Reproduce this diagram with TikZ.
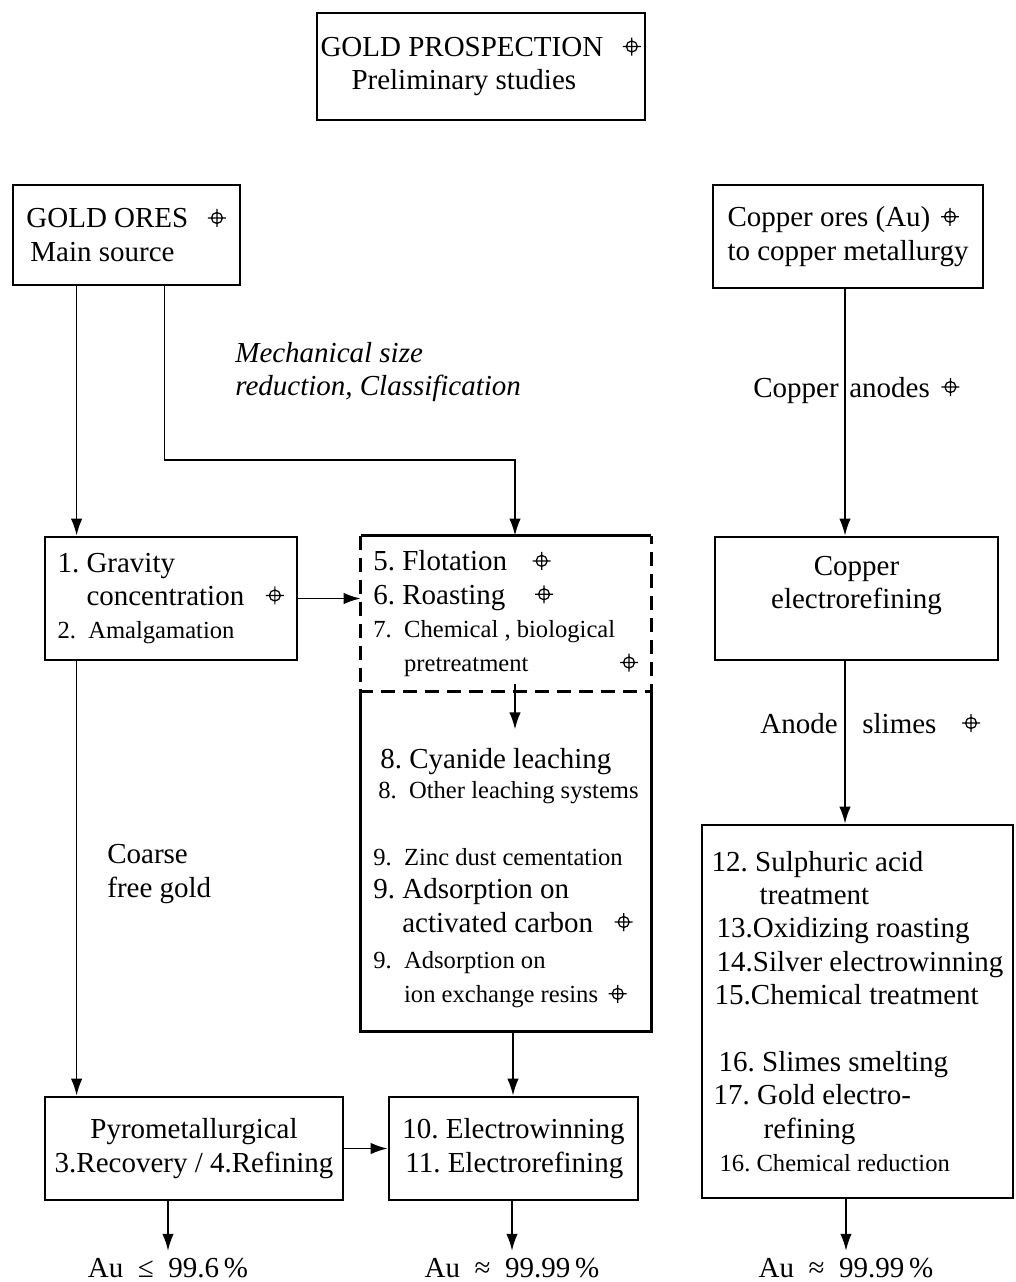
\documentclass[tikz,border=0pt]{standalone}
\usepackage{fontspec}
\setmainfont{Liberation Serif}
\usetikzlibrary{arrows.meta,positioning}

\newcommand{\aumark}{\tikz[baseline=-0.75ex]{\draw[solid, line width=0.7pt] (0,0) circle[radius=1.1mm] (-1.8mm,0) -- (1.8mm,0) (0,-1.8mm) -- (0,1.8mm);}}
\newcommand{\bigtxt}{\fontsize{16.5}{19}\selectfont}
\newcommand{\smtxt}{\fontsize{14}{19}\selectfont}
\frenchspacing

\begin{document}
\begin{tikzpicture}[
    x=0.02cm, y=-0.02cm,
    box/.style={draw, line width=1.6pt, align=left, inner sep=0pt, font=\bigtxt},
    part/.style={box, draw=none},
    frame/.style={line width=1.6pt},
    cut/.style={frame, dash pattern=on 0.28cm off 0.16cm},
    lbl/.style={inner sep=0pt, font=\bigtxt},
    purity/.style={lbl, inner sep=4pt},
    link/.style={-{Latex[length=3.4mm,width=2.3mm]}, line width=1pt}
]
\useasboundingbox (0,0) rectangle (1016,1282);

% top row
\node[box, minimum width=6.56cm, minimum height=2.14cm] (prosp) at (481,66.5)
    {GOLD PROSPECTION\hspace{0.38cm}\aumark\\\hspace*{0.62cm}Preliminary studies};
\node[box, minimum width=4.54cm, minimum height=2cm] (ores) at (126.5,235)
    {GOLD ORES\hspace{0.38cm}\aumark\\\hspace*{0.08cm}Main source};
\node[box, minimum width=5.4cm, minimum height=2.06cm] (cuores) at (848,236.5)
    {Copper ores (Au)\hspace{0.2cm}\aumark\\to copper metallurgy};

% second row
\node[box, minimum width=5.04cm, minimum height=2.46cm] (grav) at (171,598.5)
    {1. Gravity\\\phantom{1. }concentration\hspace{0.42cm}\aumark\\{\smtxt 2.\ \ Amalgamation}};
\node[part, minimum width=5.76cm, minimum height=3.06cm] (flot) at (506,613.5)
    {5. Flotation\hspace{0.5cm}\aumark\\6. Roasting\hspace{0.58cm}\aumark\\
     {\smtxt 7.\ \ Chemical , biological}\\{\smtxt\phantom{7.\ \ }pretreatment\hspace{1.82cm}\aumark}};
\node[part, minimum width=5.76cm, minimum height=6.8cm] (leach) at (506,860)
    {\rule{0pt}{32pt}\hspace*{0.14cm}8. Cyanide leaching\\[-2pt]
     {\smtxt\hspace*{0.1cm}8.\ \ Other leaching systems}\\[19pt]
     {\smtxt 9.\ \ Zinc dust cementation}\\
     9. Adsorption on\\
     \phantom{9. }activated carbon\hspace{0.42cm}\aumark\\[2pt]
     {\smtxt 9.\ \ Adsorption on}\\
     {\smtxt\phantom{9.\ \ }ion exchange resins\hspace{0.2cm}\aumark}};
\node[box, align=center, minimum width=5.66cm, minimum height=2.46cm] (curef) at (856.5,598.5)
    {Copper\\electrorefining\rule[-18pt]{0pt}{0pt}};

% lower right
\node[box, minimum width=6.22cm, minimum height=7.46cm] (anodebox) at (857.5,1011.5)
    {12. Sulphuric acid\\
     \hspace*{0.96cm}treatment\\
     \hspace*{0.1cm}13.Oxidizing roasting\\
     \hspace*{0.1cm}14.Silver electrowinning\\
     \hspace*{0.06cm}15.Chemical treatment\\[19pt]
     \hspace*{0.14cm}16. Slimes smelting\\
     \hspace*{0.04cm}17. Gold electro-\\
     \hspace*{1.04cm}refining\\
     {\smtxt\hspace*{0.16cm}16. Chemical reduction}};

% bottom row
\node[box, align=center, minimum width=5.96cm, minimum height=2.06cm] (pyro) at (194,1148.5)
    {Pyrometallurgical\\3.Recovery / 4.Refining};
\node[box, minimum width=4.98cm, minimum height=2.06cm] (ewin) at (513.5,1148.5)
    {10. Electrowinning\\\hspace*{0.06cm}11. Electrorefining};

\node[purity] (au1) at (168,1268) {Au\enspace≤\enspace99.6\,\%};
\node[purity] (au2) at (512,1268) {Au\enspace≈\enspace99.99\,\%};
\node[purity] (au3) at (846,1268) {Au\enspace≈\enspace99.99\,\%};

% free labels
\node[lbl, align=left, anchor=west, font=\bigtxt\itshape] (mech) at (235,372)
    {Mechanical size\\reduction, Classification};
\node[lbl, align=left, anchor=west] (coarse) at (107,874) {Coarse\\free gold};
\node[lbl, anchor=base east] (cupper) at (839,397) {Copper};
\node[lbl, right=0.2cm of cupper.base east, anchor=base west] (anodes) {anodes\hspace{0.22cm}\aumark};
\node[lbl, anchor=base east] (anode) at (838,733) {Anode};
\node[lbl, right=0.48cm of anode.base east, anchor=base west] (slimes) {slimes\hspace{0.5cm}\aumark};

% split box outline
\draw[frame] (flot.north west) -- (flot.north east);
\draw[cut] (flot.north west) -- (flot.south west) -- (flot.south east) -- (flot.north east);
\draw[frame] (leach.north west) -- (leach.south west) -- (leach.south east) -- (leach.north east);

% connectors
\coordinate (bend) at (515,460);
\draw[link] ([xshift=1.3cm]ores.south west) coordinate (o1) -- (o1 |- grav.north);
\draw[link] ([xshift=3.06cm]ores.south west) |- (bend) -- (bend |- flot.north);
\draw[link] (grav.east) -- (grav.east -| flot.west);
\draw[link] ([xshift=0.18cm, yshift=0.14cm]flot.south) -- ([xshift=0.18cm, yshift=-0.76cm]flot.south);
\draw[link] ([xshift=0.14cm]leach.south) coordinate (l1) -- (l1 |- ewin.north);
\draw[link] ([xshift=0.66cm]grav.south west) coordinate (g1) -- (g1 |- pyro.north);
\draw[link] (pyro.east) -- (ewin.west);
\draw[link] ([xshift=-0.06cm]cuores.south) coordinate (c1) -- (c1 |- curef.north);
\draw[link] ([xshift=-0.23cm]curef.south) coordinate (c2) -- (c2 |- anodebox.north);
\draw[link] (au1.north |- pyro.south) -- (au1);
\draw[link] (au2.north |- ewin.south) -- (au2);
\draw[link] (au3.north |- anodebox.south) -- (au3);
\end{tikzpicture}
\end{document}
